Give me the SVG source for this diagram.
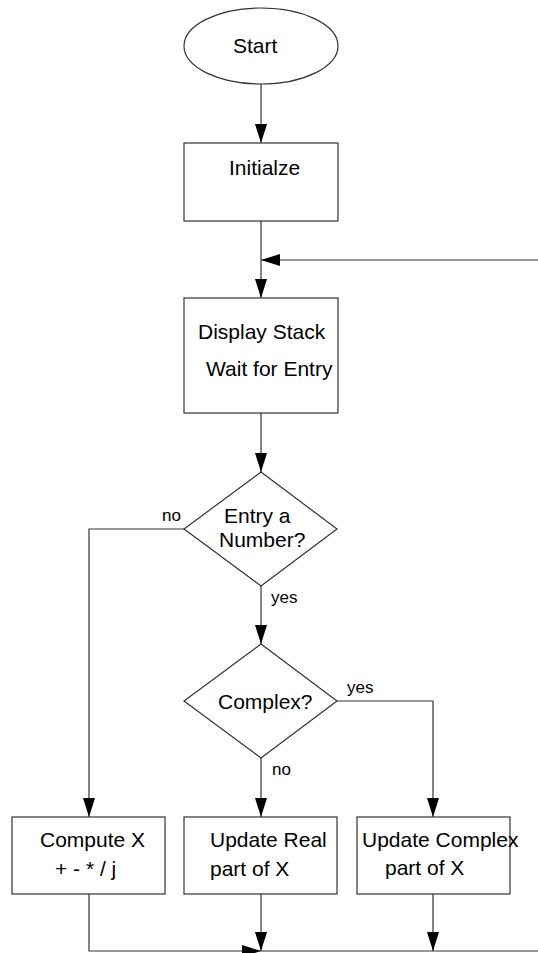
<svg xmlns="http://www.w3.org/2000/svg" width="538" height="953" viewBox="0 0 538 953">
<style>
.shape{fill:#fff;stroke:#333;stroke-width:1.2}
.conn{fill:none;stroke:#333;stroke-width:1.2}
.t{font-family:"Liberation Sans",Arial,sans-serif;font-size:21px;fill:#000}
.l{font-family:"Liberation Sans",Arial,sans-serif;font-size:17px;fill:#000}
</style>
<defs>
<marker id="ah" markerUnits="userSpaceOnUse" markerWidth="19" markerHeight="12" refX="19" refY="6" orient="auto">
<path d="M0,0 L19,6 L0,12 z" fill="#000"/>
</marker>
</defs>
<rect width="538" height="953" fill="#fff"/>
<g id="connectors">
<path class="conn" d="M261,84 V143" marker-end="url(#ah)"/>
<path class="conn" d="M261,221 V298" marker-end="url(#ah)"/>
<path class="conn" d="M538,260 H261" marker-end="url(#ah)"/>
<path class="conn" d="M261,413 V472" marker-end="url(#ah)"/>
<path class="conn" d="M184,529 H89 V817" marker-end="url(#ah)"/>
<path class="conn" d="M261,586 V644" marker-end="url(#ah)"/>
<path class="conn" d="M337,701 H433 V817" marker-end="url(#ah)"/>
<path class="conn" d="M261,758 V817" marker-end="url(#ah)"/>
<path class="conn" d="M89,894 V951 H261" marker-end="url(#ah)"/>
<path class="conn" d="M261,894 V951" marker-end="url(#ah)"/>
<path class="conn" d="M433,894 V951" marker-end="url(#ah)"/>
<path class="conn" d="M261,951 H538"/>
<text class="l" x="162" y="521">no</text>
<text class="l" x="271" y="603">yes</text>
<text class="l" x="347" y="693">yes</text>
<text class="l" x="272" y="775">no</text>
</g>
<g id="start">
<ellipse class="shape" cx="261" cy="46" rx="77" ry="38"/>
<text class="t" x="233" y="53">Start</text>
</g>
<g id="initialize">
<rect class="shape" x="184" y="143" width="154" height="78"/>
<text class="t" x="229" y="175">Initialze</text>
</g>
<g id="display">
<rect class="shape" x="184" y="298" width="154" height="115"/>
<text class="t" x="198" y="339">Display Stack</text>
<text class="t" x="206" y="376">Wait for Entry</text>
</g>
<g id="entry-number">
<polygon class="shape" points="261,472 337,529 261,586 184,529"/>
<text class="t" x="224" y="523">Entry a</text>
<text class="t" x="219" y="547">Number?</text>
</g>
<g id="complex">
<polygon class="shape" points="261,644 337,701 261,758 184,701"/>
<text class="t" x="218" y="709">Complex?</text>
</g>
<g id="compute">
<rect class="shape" x="12" y="817" width="153" height="77"/>
<text class="t" x="40" y="847">Compute X</text>
<text class="t" x="55" y="876">+ - * / j</text>
</g>
<g id="update-real">
<rect class="shape" x="184" y="817" width="153" height="77"/>
<text class="t" x="210" y="847">Update Real</text>
<text class="t" x="210" y="876">part of X</text>
</g>
<g id="update-complex">
<rect class="shape" x="357" y="817" width="153" height="77"/>
<text class="t" x="362" y="847">Update Complex</text>
<text class="t" x="385" y="875">part of X</text>
</g>
</svg>
